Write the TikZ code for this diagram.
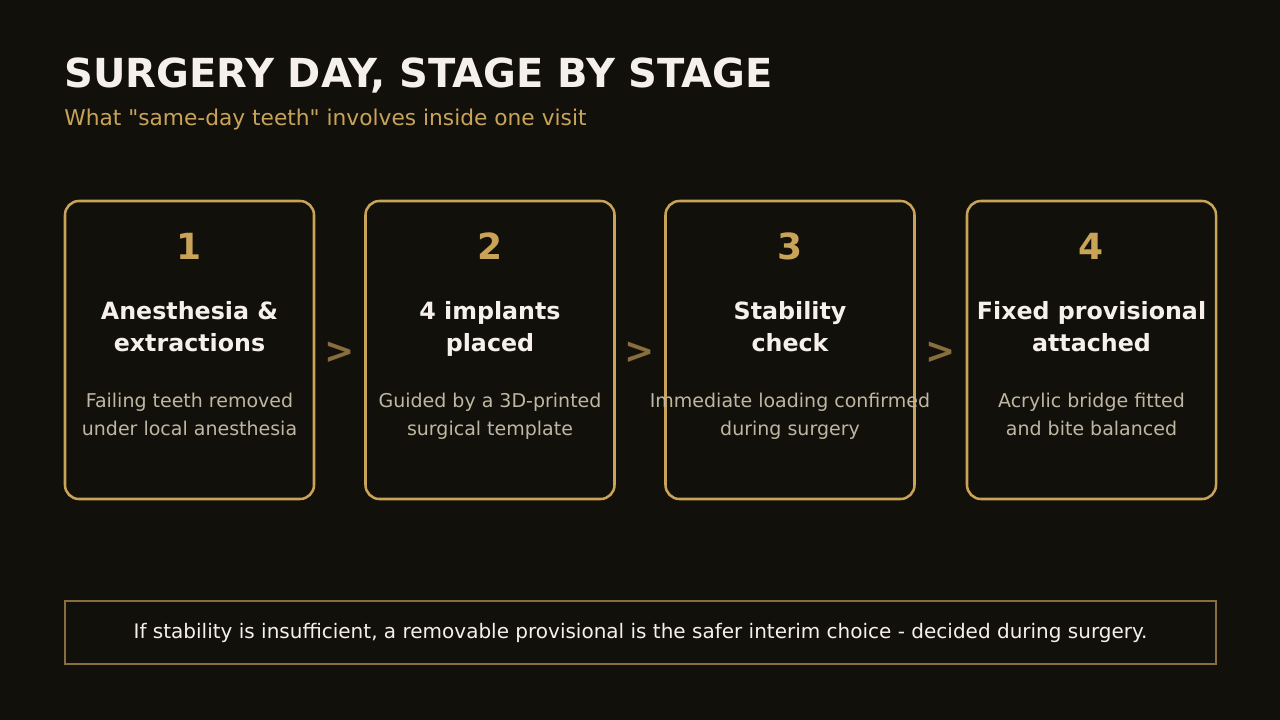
\documentclass[tikz,border=0pt]{standalone}
\usepackage{fontspec}
\setmainfont{DejaVu Sans}[Ligatures=TeXOff]
\usetikzlibrary{positioning,calc}
\definecolor{bg}{RGB}{18,16,10}
\definecolor{gold}{RGB}{201,163,88}
\definecolor{dimgold}{RGB}{136,110,62}
\definecolor{ink}{RGB}{245,241,234}
\definecolor{muted}{RGB}{192,182,164}

\begin{document}
\begin{tikzpicture}[x=0.75pt,y=-0.75pt,
	card/.style={draw=gold,line width=1.9pt,rounded corners=10.5pt,minimum width=186.75pt,minimum height=223.5pt,inner sep=0pt},
	num/.style={text=gold,font=\bfseries\fontsize{27}{27}\selectfont,inner sep=0pt,anchor=base},
	head/.style={text=ink,font=\bfseries\fontsize{17.8}{24}\selectfont,align=center,inner sep=0pt,anchor=base},
	desc/.style={text=muted,font=\fontsize{14.25}{21}\selectfont,align=center,inner sep=0pt,anchor=base},
	sep/.style={text=dimgold,font=\bfseries\fontsize{27}{27}\selectfont,inner sep=0pt}]
	\fill[bg] (0,0) rectangle (1280,720);
	\useasboundingbox (0,0) rectangle (1280,720);
	\node[anchor=base west,inner sep=0pt,text=ink,font=\bfseries\fontsize{30}{30}\selectfont] (title) at (64,88) {SURGERY DAY, STAGE BY STAGE};
	\node[anchor=base west,inner sep=0pt,text=gold,font=\fontsize{16.3}{16.3}\selectfont] (subtitle) at (64,126) {What "same-day teeth" involves inside one visit};
	% the four stages
	\foreach \i/\x/\headtext/\desctext in {
		1/189.5/{Anesthesia \&\\extractions}/{Failing teeth removed\\under local anesthesia},
		2/490/{4 implants\\placed}/{Guided by a 3D-printed\\surgical template},
		3/790/{Stability\\check}/{Immediate loading confirmed\\during surgery},
		4/1091.5/{Fixed provisional\\attached}/{Acrylic bridge fitted\\and bite balanced}}{
		\node[card] (card\i) at (\x,350) {};
		\node[num] (num\i) at (\x,259) {\i};
		\node[head] (head\i) at (\x,351) {\headtext};
		\node[desc] (desc\i) at (\x,435) {\desctext};
	}
	\foreach \i/\j in {1/2,2/3,3/4}
		\node[sep] (sep\i) at ($(card\i.east)!0.5!(card\j.west)+(0,3)$) {>};
	% note
	\node[draw=dimgold,line width=1.1pt,minimum width=863.25pt,minimum height=47.25pt,inner sep=0pt,text=ink,font=\fontsize{15}{15}\selectfont] (note) at (640.5,632.5) {\raisebox{-2pt}{If stability is insufficient, a removable provisional is the safer interim choice - decided during surgery.}};
\end{tikzpicture}
\end{document}
